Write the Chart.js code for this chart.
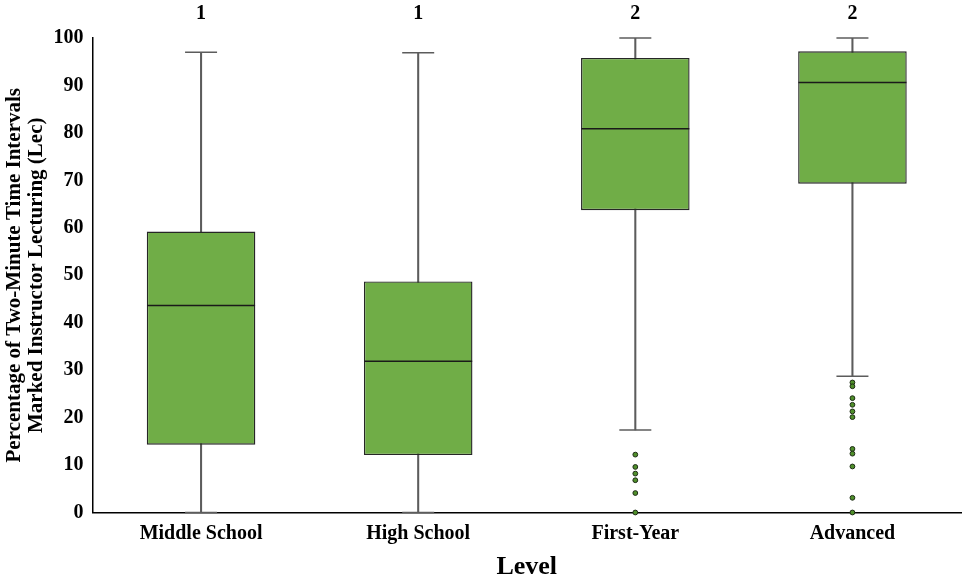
<!DOCTYPE html>
<html>
<head>
<meta charset="utf-8">
<script src="https://cdn.jsdelivr.net/npm/chart.js@4"></script>
<style>
  html, body { margin: 0; padding: 0; background: #fff; }
  #wrap { width: 965px; height: 581px; }
</style>
</head>
<body>
<div id="wrap"><canvas id="chart"></canvas></div>
<script>
// categories and group letters shown above each box
const categories = ["Middle School", "High School", "First-Year", "Advanced"];
const groupLetters = ["1", "1", "2", "2"];

// box plot statistics
const whiskerLow = [0, 0, 17.4, 28.7];
const q1 = [14.3, 12.1, 63.7, 69.3];
const median = [43.6, 31.9, 80.9, 90.6];
const q3 = [59.2, 48.7, 95.8, 97.2];
const whiskerHigh = [97, 96.9, 100, 100];

// outliers
const outliersFirstYear = [12.2, 9.6, 8.2, 6.8, 4.1, 0];
const outliersAdvanced = [27.4, 26.6, 24.1, 22.7, 21.3, 20.1, 13.4, 12.4, 9.7, 3.1, 0];

// y axis ticks
const yTicks = [0, 10, 20, 30, 40, 50, 60, 70, 80, 90, 100];

const serif = "'Liberation Serif', 'Times New Roman', serif";
const green = "#70ad47";
const whiskerColor = "#5c5c5c";
const edge = "#262626";

const outlierPoints = [
  ...outliersFirstYear.map(v => ({ x: "First-Year", y: v })),
  ...outliersAdvanced.map(v => ({ x: "Advanced", y: v }))
];

new Chart(document.getElementById("chart"), {
  type: "bar",
  data: {
    labels: categories,
    datasets: [
      {
        // whisker stem from min to max, sits behind the box
        label: "whisker",
        data: categories.map((c, i) => [whiskerLow[i], whiskerHigh[i]]),
        backgroundColor: whiskerColor,
        barThickness: 1.4,
        grouped: false,
        order: 3
      },
      {
        label: "box",
        data: categories.map((c, i) => [q1[i], q3[i]]),
        backgroundColor: green,
        borderColor: edge,
        borderWidth: 1.4,
        borderSkipped: false,
        barPercentage: 0.5,
        categoryPercentage: 1,
        grouped: false,
        order: 2
      },
      {
        type: "line",
        label: "capHigh",
        data: whiskerHigh,
        showLine: false,
        pointStyle: "line",
        pointRadius: 16,
        pointBorderWidth: 1.6,
        pointBorderColor: whiskerColor,
        clip: false,
        order: 1
      },
      {
        type: "line",
        label: "capLow",
        data: whiskerLow,
        showLine: false,
        pointStyle: "line",
        pointRadius: 16,
        pointBorderWidth: 1.6,
        pointBorderColor: whiskerColor,
        clip: false,
        order: 1
      },
      {
        type: "line",
        label: "median",
        data: median,
        showLine: false,
        pointStyle: "line",
        pointRadius: 54,
        pointBorderWidth: 1.5,
        pointBorderColor: "#1a1a1a",
        clip: false,
        order: 0
      },
      {
        type: "line",
        label: "outliers",
        data: outlierPoints,
        showLine: false,
        pointStyle: "circle",
        pointRadius: 2.4,
        pointBackgroundColor: "#4f8f2a",
        pointBorderColor: "#1c2a14",
        pointBorderWidth: 1,
        clip: false,
        order: 0
      }
    ]
  },
  options: {
    responsive: true,
    maintainAspectRatio: false,
    animation: false,
    events: [],
    layout: { autoPadding: false, padding: { right: 4 } },
    plugins: {
      legend: { display: false },
      tooltip: { enabled: false }
    },
    scales: {
      x: {
        grid: { display: false },
        border: { display: true, color: "#000", width: 1.5 },
        ticks: {
          color: "#000",
          padding: 1,
          font: { family: serif, size: 20, weight: "bold" }
        },
        title: {
          display: true,
          text: "Level",
          color: "#000",
          padding: { top: 0, bottom: 1 },
          font: { family: serif, size: 26, weight: "bold", lineHeight: 1 }
        },
        afterFit(scale) { scale.height = 68.5; }
      },
      x2: {
        type: "category",
        labels: groupLetters,
        position: "top",
        offset: true,
        grid: { display: false },
        border: { display: false },
        ticks: {
          color: "#000",
          padding: 4,
          font: { family: serif, size: 20, weight: "bold" }
        },
        afterFit(scale) { scale.height = 38; }
      },
      y: {
        min: 0,
        max: 100,
        afterBuildTicks(scale) { scale.ticks = yTicks.map(v => ({ value: v })); },
        grid: { display: false },
        border: { display: true, color: "#000", width: 1.5 },
        ticks: {
          color: "#000",
          padding: 1,
          font: { family: serif, size: 20, weight: "bold" }
        },
        title: {
          display: true,
          text: ["Percentage of Two-Minute Time Intervals", "Marked Instructor Lecturing (Lec)"],
          color: "#000",
          padding: { top: 3, bottom: 0 },
          font: { family: serif, size: 21, weight: "bold", lineHeight: 1.07 }
        },
        afterFit(scale) { scale.width = 92.5; }
      }
    }
  }
});
</script>
</body>
</html>
